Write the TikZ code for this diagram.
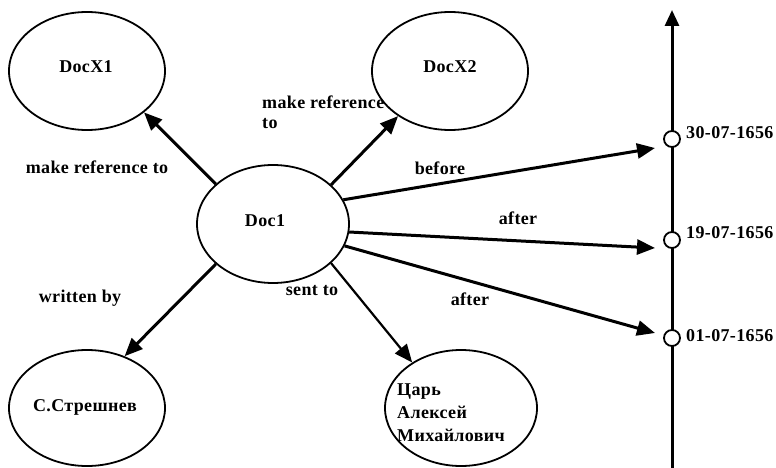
\documentclass[tikz,border=0pt]{standalone}
\usepackage{fontspec}
\setmainfont{Liberation Serif}[LetterSpace=2]
\usetikzlibrary{arrows.meta,shapes.geometric}
\begin{document}
\begin{tikzpicture}[x=1pt,y=-1pt,
  txt/.style={font=\bfseries\fontsize{18}{20}\selectfont, inner sep=0pt},
  ell/.style={draw, ellipse, line width=1.8pt, inner sep=0pt, fill=white},
  rel/.style={line width=3pt, -{Triangle[length=18pt,width=15pt]}},
  tick/.style={draw, circle, line width=1.8pt, fill=white, minimum size=16pt, inner sep=0pt}
]
\useasboundingbox (0,0) rectangle (776,468);
% ellipses
\node[ell, minimum width=156pt, minimum height=118pt] (docx1) at (87,71) {};
\node[ell, minimum width=156pt, minimum height=118pt] (docx2) at (450,71) {};
\node[ell, minimum width=152pt, minimum height=118pt] (doc1) at (273,224) {};
\node[ell, minimum width=156pt, minimum height=116pt] (stre) at (87,408) {};
\node[ell, minimum width=152pt, minimum height=116pt] (tsar) at (461,408) {};
% ellipse texts
\node[txt] (tx1) at (86,67) {DocX1};
\node[txt] (tx2) at (450,67) {DocX2};
\node[txt] (td1) at (265,221) {Doc1};
\node[txt] (tstre) at (85,407) {С.Стрешнев};
\node[txt, anchor=west, align=left, font=\bfseries\fontsize{18}{23}\selectfont] (ttsar) at (397,413) {Царь\\Алексей\\Михайлович};
% timeline
\coordinate (tbot) at (672,468);
\coordinate (ttop) at (672,10);
\draw[line width=3pt, -{Triangle[length=16pt,width=14pt]}] (tbot) -- (ttop);
\node[tick] (m30) at (672,139) {};
\node[tick] (m19) at (672,240) {};
\node[tick] (m01) at (672,338) {};
\node[txt, anchor=west] (d30) at (686,133) {30-07-1656};
\node[txt, anchor=west] (d19) at (686,233) {19-07-1656};
\node[txt, anchor=west] (d01) at (686,336) {01-07-1656};
\coordinate (e30) at (655,148);
\coordinate (e19) at (655,248);
\coordinate (e01) at (655,333);
% connectors
\draw[rel] (doc1.145) -- (docx1.-36);
\draw[rel] (doc1.34) -- (docx2.-139);
\draw[rel] (doc1.19) -- (e30);
\draw[rel] (doc1.-6) -- (e19);
\draw[rel] (doc1.-17) -- (e01);
\draw[rel] (doc1.-145) -- (stre.54);
\draw[rel, line width=2.2pt] (doc1.-34) -- (tsar.137);
% labels
\node[txt] (l1) at (97,167) {make reference to};
\node[txt, anchor=west, align=left] (l2) at (262,112) {make reference\\to};
\node[txt] (l3) at (440,168) {before};
\node[txt] (l4) at (518,218) {after};
\node[txt] (l5) at (470,299) {after};
\node[txt] (l6) at (80,298) {written by};
\node[txt] (l7) at (312,291) {sent to};
\end{tikzpicture}
\end{document}
